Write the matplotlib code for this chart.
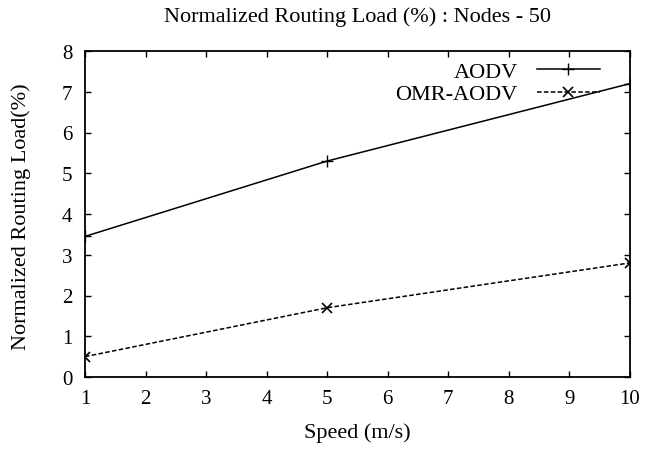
import matplotlib
matplotlib.use("Agg")
import matplotlib.pyplot as plt

speed = [1, 5, 10]
aodv = [3.45, 5.3, 7.2]
omr_aodv = [0.5, 1.7, 2.8]
xticks = list(range(1, 11))
yticks = list(range(0, 9))

plt.rcParams['font.family'] = ['Liberation Serif', 'DejaVu Serif']

W, H = 646, 452
fig = plt.figure(figsize=(W/100, H/100), dpi=100)
L, R, T, B = 85, 630, 52, 378
ax = fig.add_axes([L/W, 1-B/H, (R-L)/W, (B-T)/H])

ax.plot(speed, aodv, color='black', lw=1.1, marker='+', ms=9, mew=1.0, label='AODV')
ax.plot(speed, omr_aodv, color='black', lw=1.1, ls=(0, (3, 1.5)), marker='x', ms=7, mew=1.2, label='OMR-AODV')

ax.set_xlim(1, 10)
ax.set_ylim(0, 8)
ax.set_xticks(xticks)
ax.set_yticks(yticks)
ax.tick_params(direction='in', length=4, width=1, top=True, right=True, labelsize=15, pad=9)
for s in ax.spines.values():
    s.set_linewidth(1.3)

fig.text(357.5/W, 1-433/H, 'Speed (m/s)', ha='center', va='center', fontsize=16)
fig.text(21/W, 1-217/H, 'Normalized Routing Load(%)', ha='center', va='center', rotation=90, fontsize=16)
fig.text(357.5/W, 1-17/H, 'Normalized Routing Load (%) : Nodes - 50', ha='center', va='center', fontsize=16)

leg = ax.legend(loc='center right', bbox_to_anchor=(600/W, 1-84/H), bbox_transform=fig.transFigure,
                frameon=False, markerfirst=False, numpoints=1,
                fontsize=16, handlelength=2.84, handletextpad=0.86, labelspacing=0.08,
                borderpad=0, borderaxespad=0)

fig.savefig('out.png', dpi=100)
